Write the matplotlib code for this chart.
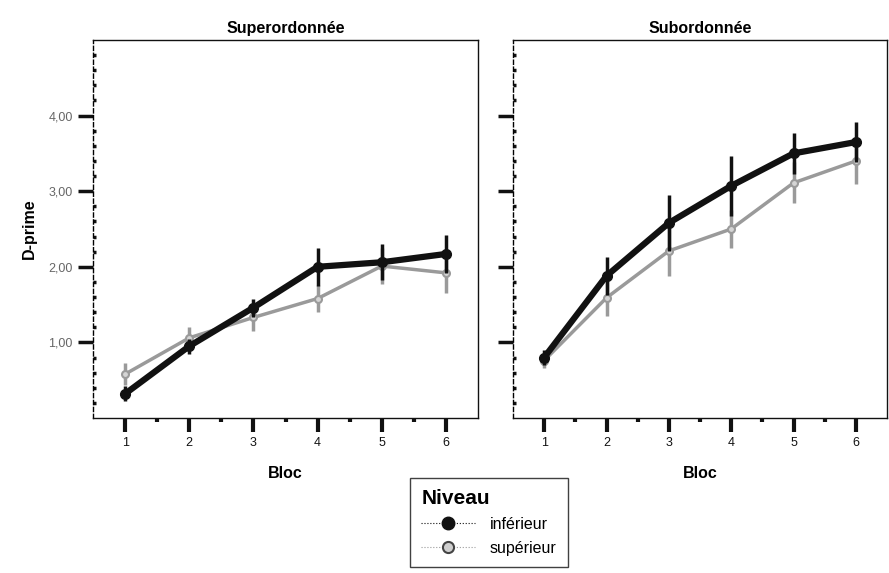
import numpy as np
import matplotlib
matplotlib.use('Agg')
import matplotlib.pyplot as plt
from matplotlib.lines import Line2D
from matplotlib.ticker import FixedLocator, FuncFormatter

plt.rcParams['font.family'] = ['Liberation Sans', 'DejaVu Sans']

# Data
blocs = [1, 2, 3, 4, 5, 6]
titles = ['Superordonnée', 'Subordonnée']

# Superordonnée
sup_inf = [0.32, 0.95, 1.46, 2.00, 2.06, 2.17]
sup_inf_err = [0.10, 0.10, 0.12, 0.25, 0.24, 0.25]
sup_sup = [0.58, 1.06, 1.33, 1.58, 2.01, 1.92]
sup_sup_err = [0.15, 0.15, 0.18, 0.18, 0.24, 0.27]

# Subordonnée
sub_inf = [0.80, 1.88, 2.58, 3.07, 3.50, 3.65]
sub_inf_err = [0.10, 0.25, 0.37, 0.40, 0.27, 0.26]
sub_sup = [0.76, 1.59, 2.21, 2.50, 3.11, 3.40]
sub_sup_err = [0.10, 0.24, 0.33, 0.25, 0.27, 0.30]

panels = [(sup_inf, sup_inf_err, sup_sup, sup_sup_err),
          (sub_inf, sub_inf_err, sub_sup, sub_sup_err)]

black = '#111111'
grey = '#9a9a9a'

fig = plt.figure(figsize=(8.89, 5.73), dpi=100)
ax1 = fig.add_axes([93 / 889, 1 - 418 / 573, 385 / 889, 378 / 573])
ax2 = fig.add_axes([513 / 889, 1 - 418 / 573, 374 / 889, 378 / 573])

for i, ax in enumerate([ax1, ax2]):
    yi, ei, ys, es = panels[i]
    # supérieur (grey, thinner)
    ax.errorbar(blocs, ys, yerr=es, color=grey, lw=2.5, elinewidth=2.5,
                capsize=0, marker='o', ms=5, mfc='#d5d5d5', mec=grey,
                mew=1.5, zorder=2)
    # inférieur (black, thick)
    ax.errorbar(blocs, yi, yerr=ei, color=black, lw=4.5, elinewidth=2.5,
                capsize=0, marker='o', ms=7, mfc=black, mec=black, zorder=3)

    ax.set_xlim(0.5, 6.5)
    ax.set_ylim(0, 5)
    ax.xaxis.set_major_locator(FixedLocator(blocs))
    ax.xaxis.set_minor_locator(FixedLocator([1.5, 2.5, 3.5, 4.5, 5.5]))
    ax.yaxis.set_major_locator(FixedLocator([1, 2, 3, 4]))
    ax.yaxis.set_minor_locator(FixedLocator(np.arange(0.2, 5.0, 0.2)))
    ax.tick_params(axis='x', which='major', direction='out', length=10,
                   width=3, labelsize=9, pad=4, colors=black)
    ax.tick_params(axis='x', which='minor', direction='out', length=3,
                   width=3, colors=black)
    ax.tick_params(axis='y', which='major', direction='out', length=11,
                   width=2.5, labelsize=9, labelcolor='#666666', colors=black)
    ax.tick_params(axis='y', which='minor', direction='in', length=2.5,
                   width=2.5, colors=black)
    ax.yaxis.set_major_formatter(
        FuncFormatter(lambda v, p: ('%.2f' % v).replace('.', ',')))
    if i == 1:
        ax.tick_params(axis='y', labelleft=False)

    for side in ['top', 'right', 'bottom']:
        ax.spines[side].set_linewidth(1.0)
        ax.spines[side].set_color(black)
    ax.spines['left'].set_linewidth(1.0)
    ax.spines['left'].set_linestyle((0, (3, 2)))

    ax.set_title(titles[i], fontsize=11.5, fontweight='bold', pad=5)
    ax.set_xlabel('Bloc', fontsize=11.5, fontweight='bold', labelpad=12)

ax1.set_ylabel('D-prime', fontsize=11.5, fontweight='bold', labelpad=8)

handles = [
    Line2D([], [], color=black, lw=0.8, ls=':', marker='o', ms=9,
           mfc=black, mec=black),
    Line2D([], [], color=grey, lw=0.8, ls=':', marker='o', ms=8,
           mfc='#cfcfcf', mec='#444444', mew=1.5),
]
leg = fig.legend(handles, ['inférieur', 'supérieur'], title='Niveau',
                 loc='upper left', bbox_to_anchor=(410 / 889, 1 - 478 / 573),
                 fontsize=11.5, title_fontproperties={'weight': 'bold', 'size': 15},
                 frameon=True, fancybox=False, edgecolor=black,
                 handlelength=3.4, handletextpad=0.9, borderpad=0.7,
                 borderaxespad=0, labelspacing=0.55, alignment='left')
leg.get_frame().set_linewidth(1.0)

fig.savefig('out.png', dpi=100)
